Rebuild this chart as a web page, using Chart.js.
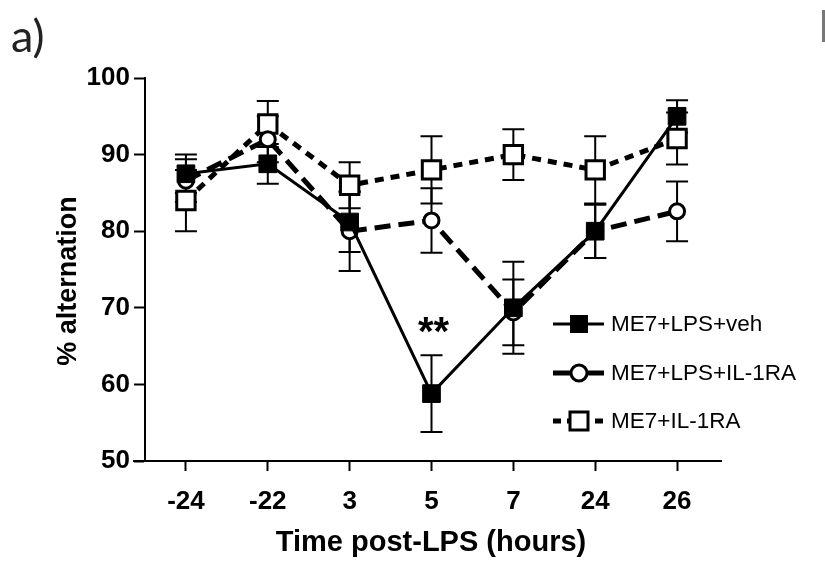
<!DOCTYPE html>
<html>
<head>
<meta charset="utf-8">
<script src="https://cdn.jsdelivr.net/npm/chart.js@4.4.1/dist/chart.umd.min.js"></script>
<style>
  html, body { margin: 0; padding: 0; background: #fff; }
  #wrap { position: relative; width: 825px; height: 563px; }
  #panel { position: absolute; left: 11px; top: 8px; font: 45px Lato, 'Open Sans', sans-serif; color: #222; }
  #edge { position: absolute; left: 822px; top: 10px; width: 3px; height: 32px; background: #777; }
</style>
</head>
<body>
<div id="wrap">
  <canvas id="chart" width="825" height="563"></canvas>
  <div id="panel">a)</div>
  <div id="edge"></div>
</div>
<script>
// Dados
const timeLabels = ['-24', '-22', '3', '5', '7', '24', '26'];
const yTicks = [50, 60, 70, 80, 90, 100];

const vehMean = [87.5, 88.8, 81.2, 58.8, 70.0, 80.0, 95.0];
const vehErr  = [2.5, 2.6, 3.9, 5.0, 6.0, 3.5, 2.1];

const lpsRaMean = [86.6, 92.0, 80.0, 81.4, 69.4, 80.0, 82.6];
const lpsRaErr  = [2.8, 3.0, 5.2, 4.2, 4.3, 3.5, 3.9];

const raMean = [84.0, 94.0, 86.0, 88.0, 90.0, 88.0, 92.1];
const raErr  = [4.0, 3.0, 3.0, 4.4, 3.3, 4.4, 3.4];

const seriesNames = ['ME7+LPS+veh', 'ME7+LPS+IL-1RA', 'ME7+IL-1RA'];
const errors = [vehErr, lpsRaErr, raErr];

const FONT = "'Liberation Sans', Arial, sans-serif";

// Barras de erro (desenhadas atrás dos marcadores)
const errorBars = {
    id: 'errorBars',
    beforeDatasetsDraw(chart) {
        const ctx = chart.ctx;
        const yScale = chart.scales.y;
        ctx.save();
        ctx.strokeStyle = '#000';
        ctx.lineWidth = 2;
        chart.data.datasets.forEach((ds, di) => {
            const meta = chart.getDatasetMeta(di);
            meta.data.forEach((pt, i) => {
                const v = ds.data[i];
                const e = errors[di][i];
                const yTop = yScale.getPixelForValue(v + e);
                const yBot = yScale.getPixelForValue(v - e);
                ctx.beginPath();
                ctx.moveTo(pt.x, yTop); ctx.lineTo(pt.x, yBot);
                ctx.moveTo(pt.x - 11, yTop); ctx.lineTo(pt.x + 11, yTop);
                ctx.moveTo(pt.x - 11, yBot); ctx.lineTo(pt.x + 11, yBot);
                ctx.stroke();
            });
        });
        ctx.restore();
    }
};

// Títulos, legenda, asteriscos
const extras = {
    id: 'extras',
    afterDraw(chart) {
        const ctx = chart.ctx;
        const area = chart.chartArea;
        ctx.save();
        ctx.fillStyle = '#000';
        ctx.strokeStyle = '#000';

        // prolonga o eixo x como no Prism
        ctx.lineWidth = 2;
        ctx.beginPath();
        ctx.moveTo(area.left - 12, area.bottom);
        ctx.lineTo(area.right + 4, area.bottom);
        ctx.stroke();

        // título eixo x
        ctx.font = 'bold 29px ' + FONT;
        ctx.textAlign = 'center';
        ctx.textBaseline = 'middle';
        ctx.fillText('Time post-LPS (hours)', 431, 543);

        // título eixo y
        ctx.save();
        ctx.translate(69, 281);
        ctx.rotate(-Math.PI / 2);
        ctx.font = 'bold 27px ' + FONT;
        ctx.fillText('% alternation', 0, 0);
        ctx.restore();

        // significância em 5 h
        const xs = chart.getDatasetMeta(0).data[3].x;
        ctx.font = 'bold 40px ' + FONT;
        ctx.textBaseline = 'alphabetic';
        ctx.fillText('**', xs + 2, 345);

        // legenda
        const rows = [324, 373, 421];
        chart.data.datasets.forEach((ds, di) => {
            const y = rows[di];
            ctx.save();
            ctx.lineWidth = di === 0 ? 3 : 5;
            ctx.setLineDash(di === 2 ? [8, 6] : []);
            ctx.beginPath();
            ctx.moveTo(553, y); ctx.lineTo(604, y);
            ctx.stroke();
            ctx.setLineDash([]);
            if (di === 0) {
                ctx.fillRect(570, y - 9, 18, 18);
            } else if (di === 1) {
                ctx.fillStyle = '#fff';
                ctx.lineWidth = 3;
                ctx.beginPath();
                ctx.arc(579, y, 8, 0, Math.PI * 2);
                ctx.fill(); ctx.stroke();
            } else {
                ctx.fillStyle = '#fff';
                ctx.lineWidth = 3;
                ctx.fillRect(570, y - 9, 18, 18);
                ctx.strokeRect(570, y - 9, 18, 18);
            }
            ctx.restore();
            ctx.font = '22.5px ' + FONT;
            ctx.textAlign = 'left';
            ctx.textBaseline = 'middle';
            ctx.fillText(ds.label, 611, y + 1);
        });
        ctx.restore();
    }
};

new Chart(document.getElementById('chart'), {
    type: 'line',
    data: {
        labels: timeLabels,
        datasets: [
            {
                label: seriesNames[0],
                data: vehMean,
                borderColor: '#000',
                borderWidth: 3,
                pointStyle: 'rect',
                pointRadius: 12.5,
                pointBackgroundColor: '#000',
                pointBorderColor: '#000',
                pointBorderWidth: 1
            },
            {
                label: seriesNames[1],
                data: lpsRaMean,
                borderColor: '#000',
                borderWidth: 5,
                borderDash: [16, 8],
                pointStyle: 'circle',
                pointRadius: 7.5,
                pointBackgroundColor: '#fff',
                pointBorderColor: '#000',
                pointBorderWidth: 3
            },
            {
                label: seriesNames[2],
                data: raMean,
                borderColor: '#000',
                borderWidth: 5,
                borderDash: [9, 7],
                pointStyle: 'rect',
                pointRadius: 13,
                pointBackgroundColor: '#fff',
                pointBorderColor: '#000',
                pointBorderWidth: 3
            }
        ]
    },
    options: {
        responsive: false,
        animation: false,
        layout: { padding: { left: 0, right: 107, top: 78, bottom: 0 } },
        plugins: {
            legend: { display: false },
            tooltip: { enabled: false }
        },
        scales: {
            x: {
                type: 'category',
                offset: true,
                afterFit: (s) => { s.height = 102; },
                grid: {
                    offset: false,
                    drawOnChartArea: false,
                    drawTicks: true,
                    tickLength: 10,
                    tickWidth: 2,
                    tickColor: '#000'
                },
                border: { display: true, color: '#000', width: 2 },
                ticks: {
                    color: '#000',
                    padding: 15,
                    font: { family: FONT, size: 26, weight: 'bold' },
                    maxRotation: 0
                }
            },
            y: {
                min: 50,
                max: 100,
                afterFit: (s) => { s.width = 145; },
                afterBuildTicks: (s) => { s.ticks = yTicks.map(v => ({ value: v })); },
                grid: {
                    drawOnChartArea: false,
                    drawTicks: true,
                    tickLength: 11,
                    tickWidth: 2,
                    tickColor: '#000'
                },
                border: { display: true, color: '#000', width: 2 },
                ticks: {
                    color: '#000',
                    padding: 4,
                    font: { family: FONT, size: 26, weight: 'bold' }
                }
            }
        }
    },
    plugins: [errorBars, extras]
});
</script>
</body>
</html>
